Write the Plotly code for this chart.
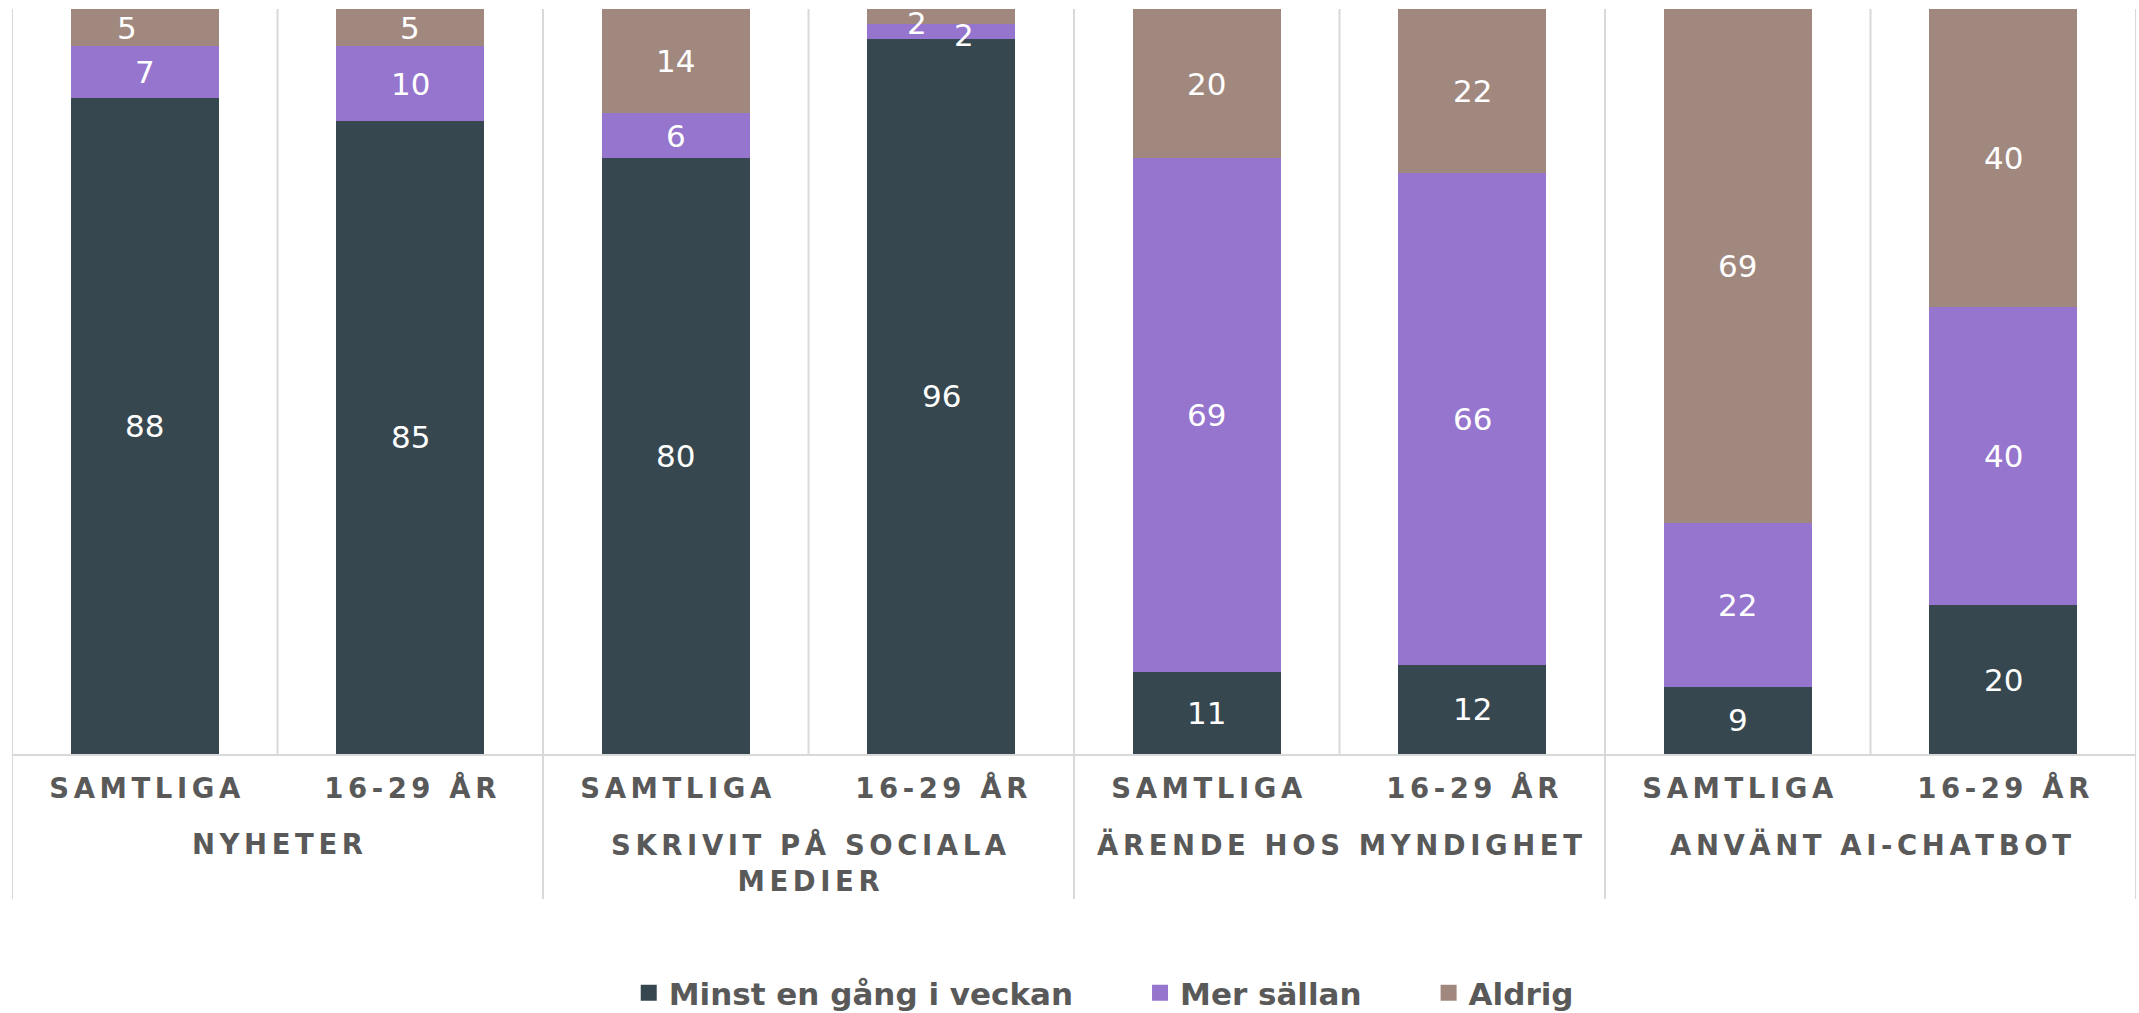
import numpy as np
import plotly.graph_objects as go

# ---------------- data ----------------
groups = ["NYHETER", "SKRIVIT PÅ SOCIALA\nMEDIER", "ÄRENDE HOS MYNDIGHET", "ANVÄNT AI-CHATBOT"]
subgroups = ["SAMTLIGA", "16-29 ÅR"]
series_names = ["Minst en gång i veckan", "Mer sällan", "Aldrig"]
minst = [88, 85, 80, 96, 11, 12, 9, 20]
mer_sallan = [7, 10, 6, 2, 69, 66, 22, 40]
aldrig = [5, 5, 14, 2, 20, 22, 69, 40]

# ---------------- style ----------------
colors = ["#37474F", "#9575CD", "#A1887F"]
grid_color = "#D9D9D9"
text_grey = "#595959"
FONT = "DejaVu Sans"
W, H = 2139, 1013
M_L, M_R, M_T, M_B = 12, 3, 9, 259
plot_h = H - M_T - M_B
# per-label pixel nudges (series index, bar index) -> (dx, dy)
nudges = {(2, 0): (-18, 0), (2, 3): (-24, -7), (1, 3): (23, -4)}
LS = "\u2006"  # letter spacing


def spaced(s):
    return "<br>".join(LS.join(line) for line in s.split("\n"))


series = [minst, mer_sallan, aldrig]
n_bars = len(minst)
xpos = np.arange(n_bars)
ticktext = [spaced(subgroups[i % len(subgroups)]) for i in range(n_bars)]

fig = go.Figure()
for name, vals, col in zip(series_names, series, colors):
    fig.add_trace(go.Bar(x=xpos, y=vals, name=name, marker=dict(color=col, line=dict(width=0)),
                         width=0.557, showlegend=False, hoverinfo="x+y+name"))

# legend entries
for k, (name, col) in enumerate(zip(series_names, colors)):
    pad = "\u2003\u2003" if k < len(series_names) - 1 else ""
    fig.add_trace(go.Scatter(x=[None], y=[None], mode="markers", name=name + pad,
                             marker=dict(symbol="square", size=18, color=col)))

# data labels
stack = np.vstack(series).astype(float)
bases = np.vstack([np.zeros(n_bars), np.cumsum(stack, axis=0)[:-1]])
for s in range(stack.shape[0]):
    for b in range(n_bars):
        dx, dy = nudges.get((s, b), (0, 0))
        fig.add_annotation(x=xpos[b], y=bases[s, b] + stack[s, b] / 2, xref="x", yref="y",
                           text=str(int(stack[s, b])), showarrow=False,
                           xshift=dx, yshift=dy,
                           font=dict(family=FONT, size=31, color="white"))

# group labels
gsize = len(subgroups)
for g, label in enumerate(groups):
    fig.add_annotation(x=g * gsize + (gsize - 1) / 2, y=-71.5 / plot_h, xref="x", yref="paper",
                       text=spaced(label), showarrow=False, yanchor="top",
                       font=dict(family=FONT, size=27.5, color=text_grey, weight="bold"))

# separators
bounds = np.arange(n_bars + 1) - 0.5
for i, bx in enumerate(bounds):
    is_group = (i % gsize == 0)
    fig.add_shape(type="line", xref="x", yref="paper", x0=bx, x1=bx,
                  y0=(-145 / plot_h) if is_group else 0, y1=1,
                  line=dict(color=grid_color, width=2), layer="below")

fig.update_layout(
    width=W, height=H,
    barmode="stack", bargap=0.443,
    plot_bgcolor="white", paper_bgcolor="white",
    margin=dict(l=M_L, r=M_R, t=M_T, b=M_B, autoexpand=False),
    font=dict(family=FONT, color=text_grey),
    legend=dict(orientation="h", traceorder="normal",
                x=0.514, xanchor="center", xref="paper",
                y=(H - 993) / H, yanchor="middle", yref="container",
                font=dict(family=FONT, size=31, color=text_grey, weight="bold"),
                itemsizing="trace", bgcolor="rgba(0,0,0,0)"),
    xaxis=dict(range=[-0.5, n_bars - 0.5], tickvals=list(xpos), ticktext=ticktext,
               tickfont=dict(family=FONT, size=27.5, color=text_grey, weight="bold"),
               ticks="", ticklabelstandoff=9, showgrid=False, zeroline=False, automargin=False,
               showline=True, linecolor=grid_color, linewidth=2, fixedrange=True),
    yaxis=dict(range=[0, 100], showticklabels=False, showgrid=False, zeroline=False,
               showline=False, fixedrange=True, automargin=False),
)

fig.write_html("out.html", config={"displayModeBar": False},
               post_script="document.body.style.margin='0';document.body.style.overflow='hidden';")
